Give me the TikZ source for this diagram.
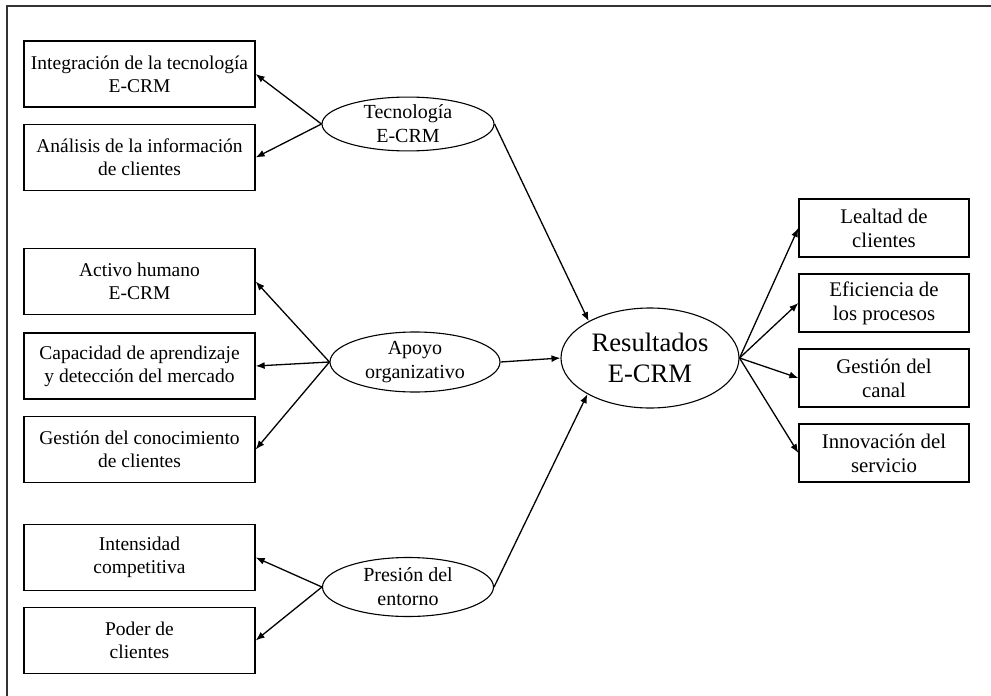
\documentclass[tikz,border=0pt]{standalone}
\usepackage{fontspec}
\setmainfont{Liberation Serif}
\usetikzlibrary{shapes.geometric,arrows.meta}
\tikzset{
  lbox/.style={draw, line width=1.3pt, minimum width=231pt, minimum height=66pt, inner sep=0pt, align=center, font=\fontsize{19.5}{23}\selectfont},
  rbox/.style={draw, line width=1.3pt, minimum width=170pt, minimum height=58pt, inner sep=0pt, align=center, font=\fontsize{20.8}{24}\selectfont},
  oval/.style={draw, ellipse, line width=1.1pt, inner sep=0pt, align=center, font=\fontsize{20}{24}\selectfont},
  arr/.style={line width=1.3pt, -{Latex[length=9pt,width=7pt]}}
}
\begin{document}
\begin{tikzpicture}[x=1pt,y=-1pt]
\useasboundingbox (0,0) rectangle (991,696);
\coordinate (f1) at (7,6);
\coordinate (f2) at (991,6);
\coordinate (f3) at (7,696);
\draw[line width=1.4pt, black!80] (f2) -- (f1) -- (f3);

% left boxes
\node[lbox] (b1) at (139.5,74) {Integración de la tecnología\\E-CRM};
\node[lbox] (b2) at (139.5,157.5) {Análisis de la información\\de clientes};
\node[lbox] (b3) at (139.5,281.5) {Activo humano\\E-CRM};
\node[lbox] (b4) at (139.5,366) {Capacidad de aprendizaje\\y detección del mercado};
\node[lbox] (b5) at (139.5,449.5) {Gestión del conocimiento\\de clientes};
\node[lbox] (b6) at (139.5,557.5) {Intensidad\\competitiva};
\node[lbox] (b7) at (139.5,640.5) {Poder de\\clientes};

% ellipses
\node[oval, minimum width=172pt, minimum height=50pt] (tec) at (408,124) {Tecnología\\E-CRM};
\node[oval, minimum width=170pt, minimum height=60pt] (apo) at (415,362) {Apoyo\\organizativo};
\node[oval, minimum width=171pt, minimum height=59pt] (pre) at (408,587) {Presión del\\entorno};
\node[oval, minimum width=178pt, minimum height=100pt, font=\fontsize{26.6}{30.3}\selectfont] (res) at (650,358) {Resultados\\E-CRM};

% right boxes
\node[rbox] (r1) at (884,228) {Lealtad de\\clientes};
\node[rbox] (r2) at (884,303) {Eficiencia de\\los procesos};
\node[rbox] (r3) at (884,378) {Gestión del\\canal};
\node[rbox] (r4) at (884,453) {Innovación del\\servicio};

% connectors
\draw[arr] (tec.west) -- (b1.east);
\draw[arr] (tec.west) -- (b2.east);
\draw[arr] (apo.west) -- (b3.east);
\draw[arr] (apo.west) -- (b4.east);
\draw[arr] (apo.west) -- (b5.east);
\draw[arr] (pre.west) -- (b6.east);
\draw[arr] (pre.west) -- (b7.east);

\draw[arr] (tec.east) -- (res.149);
\draw[arr] (apo.east) -- (res.west);
\draw[arr] (pre.east) -- (res.210);

\draw[arr] (res.east) -- (r1.west);
\draw[arr] (res.east) -- (r2.west);
\draw[arr] (res.east) -- (r3.west);
\draw[arr] (res.east) -- (r4.west);
\end{tikzpicture}
\end{document}
